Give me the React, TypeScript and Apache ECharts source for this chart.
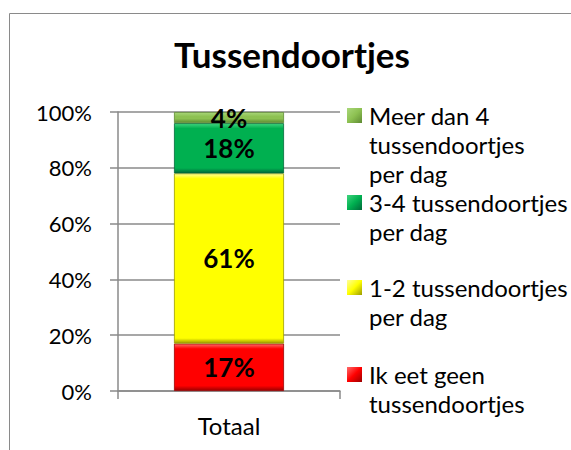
import React, { useEffect, useRef } from "react";
import * as echarts from "echarts";

// ---- data ----
const categories = ["Totaal"];
const seriesNames = [
  "Ik eet geen tussendoortjes",
  "1-2 tussendoortjes per dag",
  "3-4 tussendoortjes per dag",
  "Meer dan 4 tussendoortjes per dag",
];
const geenValues = [17];
const eenTweeValues = [61];
const drieVierValues = [18];
const meerDanVierValues = [4];
const legendLines = [
  ["Ik eet geen", "tussendoortjes"],
  ["1-2 tussendoortjes", "per dag"],
  ["3-4 tussendoortjes", "per dag"],
  ["Meer dan 4", "tussendoortjes", "per dag"],
];
const titleText = "Tussendoortjes";
const yMin = 0;
const yMax = 100;
const yInterval = 20;

// ---- styles ----
const FONT = "Lato, 'Noto Sans', sans-serif";
const baseColors = ["#FF0000", "#FFFF00", "#00B050", "#8DC152"];
const lightColors = ["#FF6A6A", "#FFFF9A", "#40D47E", "#A9D77A"];
const darkColors = ["#9A0000", "#9C9C00", "#00683A", "#5E8A32"];
const GRID_COLOR = "#8A8A8A";

const GRID = { left: 118, top: 112, right: 231, bottom: 59 };
const PLOT_H = 450 - GRID.top - GRID.bottom;

function bevel(i: number, value: number) {
  const h = (value / (yMax - yMin)) * PLOT_H;
  const f = Math.min(0.4, 5 / Math.max(h, 1));
  return new echarts.graphic.LinearGradient(0, 0, 0, 1, [
    { offset: 0, color: lightColors[i] },
    { offset: f, color: baseColors[i] },
    { offset: 1 - f, color: baseColors[i] },
    { offset: 1, color: darkColors[i] },
  ]);
}

export default function App() {
  const ref = useRef<HTMLDivElement>(null);

  useEffect(() => {
    if (!ref.current) return;
    const chart = echarts.init(ref.current, null, { renderer: "svg" });
    const allValues = [geenValues, eenTweeValues, drieVierValues, meerDanVierValues];

    const series = allValues.map((vals, i) => ({
      name: seriesNames[i],
      type: "bar",
      stack: "total",
      barWidth: 110,
      data: vals.map((v) => ({
        value: v,
        itemStyle: {
          color: bevel(i, v),
          borderColor: darkColors[i],
          borderWidth: 0.8,
        },
      })),
      label: {
        show: true,
        position: "inside",
        formatter: "{c}%",
        fontFamily: FONT,
        fontWeight: "bold",
        fontSize: 26,
        color: "#000",
      },
    }));

    // legend drawn as graphic (marker aligned with first text line)
    const legendCenters = [374.5, 287.5, 202.5, 115.5];
    const legendGraphics: any[] = [];
    seriesNames.forEach((_, i) => {
      const cy = legendCenters[i];
      legendGraphics.push({
        type: "rect",
        shape: { x: 347, y: cy - 7.5, width: 15, height: 15 },
        style: {
          fill: new echarts.graphic.LinearGradient(0, 0, 1, 1, [
            { offset: 0, color: lightColors[i] },
            { offset: 0.5, color: baseColors[i] },
            { offset: 1, color: darkColors[i] },
          ]),
        },
      });
      legendGraphics.push({
        type: "text",
        x: 369,
        y: cy - 14.5,
        style: {
          text: legendLines[i].join("\n"),
          fontFamily: FONT,
          fontSize: 24,
          lineHeight: 29,
          fill: "#000",
          verticalAlign: "top",
          align: "left",
        },
      });
    });

    chart.setOption({
      animation: false,
      backgroundColor: "#fff",
      title: {
        text: titleText,
        left: 292,
        textAlign: "center",
        top: 36,
        padding: 0,
        textStyle: {
          fontFamily: FONT,
          fontWeight: "bold",
          fontSize: 35,
          color: "#000",
        },
      },
      grid: { ...GRID, containLabel: false },
      xAxis: {
        type: "category",
        data: categories,
        axisLine: { show: true, lineStyle: { color: GRID_COLOR, width: 1.5 } },
        axisTick: { show: true, length: 8, lineStyle: { color: GRID_COLOR, width: 1.5 } },
        axisLabel: {
          margin: 22,
          fontFamily: FONT,
          fontSize: 24,
          color: "#000",
        },
      },
      yAxis: {
        type: "value",
        min: yMin,
        max: yMax,
        interval: yInterval,
        axisLine: { show: true, lineStyle: { color: GRID_COLOR, width: 1.5 } },
        axisTick: { show: true, length: 8, lineStyle: { color: GRID_COLOR, width: 1.5 } },
        splitLine: { show: true, lineStyle: { color: GRID_COLOR, width: 1.5 } },
        axisLabel: {
          margin: 26,
          formatter: "{value}%",
          fontFamily: FONT,
          fontSize: 22,
          color: "#000",
        },
      },
      series,
      graphic: [
        {
          type: "rect",
          shape: { x: 9.5, y: 13.5, width: 800, height: 800 },
          style: { fill: "none", stroke: "#8A8A8A", lineWidth: 1 },
          silent: true,
          z: -1,
        },
        ...legendGraphics,
      ],
    });

    return () => chart.dispose();
  }, []);

  return (
    <div
      ref={ref}
      style={{ position: "absolute", left: 0, top: 0, width: 571, height: 450 }}
    />
  );
}
